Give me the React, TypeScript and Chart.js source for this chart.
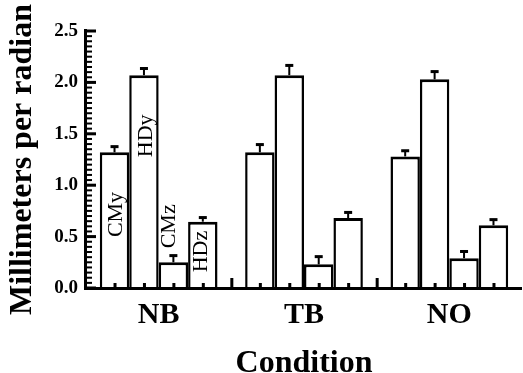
import React, { useEffect, useRef } from 'react';
import { Chart, registerables } from 'chart.js';

Chart.register(...registerables);

// Conditions on the x axis and the four measures drawn in each group
const conditions = ['NB', 'TB', 'NO'];
const measures = ['CMy', 'HDy', 'CMz', 'HDz'];

// Mean values (mm per radian) per condition
const cmy = [1.32, 1.32, 1.28];
const hdy = [2.07, 2.07, 2.03];
const cmz = [0.25, 0.23, 0.29];
const hdz = [0.645, 0.68, 0.61];

// Upper error bar lengths
const cmyErr = [0.06, 0.08, 0.06];
const hdyErr = [0.07, 0.1, 0.08];
const cmzErr = [0.07, 0.08, 0.07];
const hdzErr = [0.045, 0.06, 0.06];

// Y axis tick labels
const yTicks = [0, 0.5, 1.0, 1.5, 2.0, 2.5];

const SERIF = '"Liberation Serif", "Times New Roman", Times, serif';

const seriesValues = [cmy, hdy, cmz, hdz];
const seriesErrors = [cmyErr, hdyErr, cmzErr, hdzErr];

// Axis lines, tick marks, error bars and the in-bar measure names
const figureMarks = {
  id: 'figureMarks',
  afterDatasetsDraw(chart: any) {
    const { ctx, chartArea: a, scales } = chart;
    const x = scales.x;
    const y = scales.y;
    const yb = Math.round(y.getPixelForValue(0));
    const yTop = y.getPixelForValue(yTicks[yTicks.length - 1]);
    ctx.save();
    ctx.fillStyle = '#000';
    ctx.strokeStyle = '#000';

    // error bars (upper half only)
    chart.data.datasets.forEach((ds: any, d: number) => {
      const meta = chart.getDatasetMeta(d);
      meta.data.forEach((bar: any, i: number) => {
        const tip = y.getPixelForValue(ds.data[i] + ds.errors[i]);
        ctx.fillRect(bar.x - 1, tip, 2, bar.y - tip);
        ctx.fillRect(bar.x - 4, tip - 1, 8, 3);
      });
    });

    // measure names inside the first group
    const labelAt = [0.715, 1.48, 0.6, 0.355];
    const labelDx = [2, 2, -4, -2];
    ctx.font = `22px ${SERIF}`;
    ctx.textAlign = 'center';
    ctx.textBaseline = 'middle';
    measures.forEach((m, d) => {
      const bar: any = chart.getDatasetMeta(d).data[0];
      ctx.save();
      ctx.translate(bar.x + labelDx[d], y.getPixelForValue(labelAt[d]));
      ctx.rotate(-Math.PI / 2);
      ctx.fillText(m, 0, 0);
      ctx.restore();
    });

    // axis lines
    ctx.fillRect(a.left - 2, yTop - 2, 3, yb - yTop + 4);
    ctx.fillRect(a.left - 2, yb - 1, a.right - a.left + 2, 3);

    // y ticks: major every 0.5, minor every 0.05, pointing inward
    for (let k = 0; k <= 50; k++) {
      const py = y.getPixelForValue(k * 0.05);
      const major = k % 10 === 0;
      const len = major ? 9 : 5;
      const th = major ? 3 : 2;
      ctx.fillRect(a.left + 1, py - th / 2, len, th);
    }

    // x ticks: tall at category boundaries, short at each bar centre
    for (let i = 1; i < conditions.length; i++) {
      const px = (x.getPixelForValue(i - 1) + x.getPixelForValue(i)) / 2;
      ctx.fillRect(px - 1, yb - 10, 3, 10);
    }
    chart.data.datasets.forEach((_ds: any, d: number) => {
      chart.getDatasetMeta(d).data.forEach((bar: any) => {
        ctx.fillRect(bar.x - 1, yb - 5, 3, 5);
      });
    });
    ctx.restore();
  },
};

export default function App() {
  const canvasRef = useRef<HTMLCanvasElement | null>(null);

  useEffect(() => {
    const canvas = canvasRef.current;
    if (!canvas) return;
    const chart = new Chart(canvas, {
      type: 'bar',
      data: {
        labels: conditions,
        datasets: measures.map((m, d) => ({
          label: m,
          data: seriesValues[d],
          errors: seriesErrors[d],
          backgroundColor: '#ffffff',
          borderColor: '#000000',
          borderWidth: { top: 3, left: 2.5, right: 2.5, bottom: 0 },
          borderSkipped: 'start',
          categoryPercentage: 0.81,
          barPercentage: 1,
        })) as any,
      },
      options: {
        animation: false,
        responsive: false,
        maintainAspectRatio: false,
        events: [],
        layout: { padding: { top: 31, right: 1, left: 0, bottom: 0 } },
        plugins: {
          legend: { display: false },
          tooltip: { enabled: false },
        },
        scales: {
          x: {
            grid: { display: false, drawTicks: false },
            border: { display: false },
            ticks: {
              color: '#000',
              padding: 12,
              maxRotation: 0,
              font: { family: SERIF, size: 30, weight: 'bold', lineHeight: 1 },
            },
            title: {
              display: true,
              text: 'Condition',
              color: '#000',
              font: { family: SERIF, size: 32, weight: 'bold', lineHeight: 1 },
              padding: { top: 0, bottom: -7 },
            },
            afterFit: (s: any) => {
              s.height = 85;
            },
          },
          y: {
            min: 0,
            max: 2.5,
            grid: { display: false, drawTicks: false },
            border: { display: false },
            afterBuildTicks: (s: any) => {
              s.ticks = yTicks.map((v) => ({ value: v }));
            },
            ticks: {
              color: '#000',
              padding: 8,
              font: { family: SERIF, size: 19, weight: 'bold', lineHeight: 1 },
              callback: (v: any) => Number(v).toFixed(1),
            },
            title: {
              display: true,
              text: 'Millimeters per radian',
              color: '#000',
              font: { family: SERIF, size: 32, weight: 'bold', lineHeight: 1 },
              padding: { top: 7, bottom: 0 },
            },
            afterFit: (s: any) => {
              s.width = 86;
            },
          },
        },
      } as any,
      plugins: [figureMarks],
    });
    return () => chart.destroy();
  }, []);

  return (
    <div style={{ position: 'absolute', left: 0, top: 0, width: 523, height: 373, background: '#fff' }}>
      <canvas ref={canvasRef} width={523} height={373} style={{ display: 'block', width: 523, height: 373 }} />
    </div>
  );
}
